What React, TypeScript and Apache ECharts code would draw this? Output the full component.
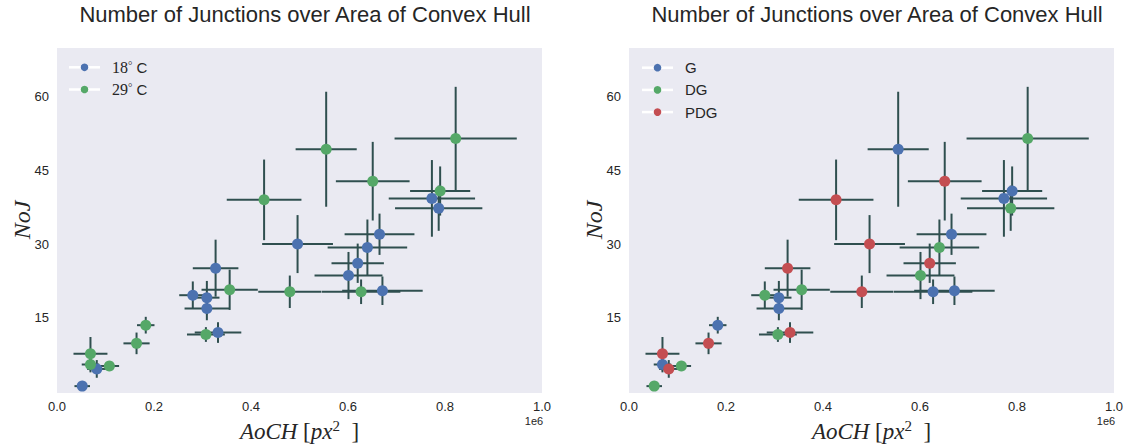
import React, { useEffect, useRef } from "react";
import * as echarts from "echarts";

// Area of convex hull [px^2] and number of junctions, with their errors
const aoch = [52000, 82000, 280000, 309000, 309000, 327000, 332000, 496000, 640000, 620000, 601000, 671000, 665000, 773000, 787000,
  69000, 69000, 108000, 164000, 183000, 307000, 356000, 480000, 627000, 427000, 555000, 651000, 790000, 822000];
const noj = [1.1, 4.6, 19.6, 19.1, 16.9, 25.1, 12.0, 30.0, 29.3, 26.1, 23.6, 20.5, 32.0, 39.3, 37.3,
  7.7, 5.5, 5.2, 9.8, 13.5, 11.6, 20.7, 20.3, 20.3, 39.0, 49.3, 42.8, 40.8, 51.5];
const aochErr = [16000, 20000, 28000, 26000, 46000, 47000, 48000, 73000, 82000, 54000, 70000, 83000, 72000, 89000, 90000,
  35000, 18000, 20000, 27000, 18000, 39000, 58000, 65000, 81000, 77000, 63000, 76000, 62000, 126000];
const nojErr = [0.5, 1.8, 2.8, 3.4, 2.4, 5.8, 2.1, 5.9, 5.7, 4.0, 4.8, 2.9, 4.2, 7.8, 4.6,
  3.4, 1.6, 1.0, 2.2, 1.7, 1.5, 4.1, 3.3, 2.5, 8.2, 11.7, 8.0, 5.0, 10.5];
const temperature = ["18", "18", "18", "18", "18", "18", "18", "18", "18", "18", "18", "18", "18", "18", "18",
  "29", "29", "29", "29", "29", "29", "29", "29", "29", "29", "29", "29", "29", "29"];
const genotype = ["DG", "PDG", "DG", "G", "G", "PDG", "PDG", "PDG", "DG", "PDG", "DG", "G", "G", "G", "DG",
  "PDG", "G", "DG", "PDG", "G", "DG", "DG", "PDG", "G", "PDG", "G", "PDG", "G", "DG"];

const tempGroups = ["18", "29"];
const typeGroups = ["G", "DG", "PDG"];
const yTicks = [15, 30, 45, 60];
const xTickInterval = 200000;

const COLORS = ["#4C72B0", "#55A868", "#C44E52"];
const BAR = "#2F4F4F";
const TXT = "#262626";
const SANS = '"Liberation Sans", Arial, sans-serif';
const SERIF = '"Liberation Serif", "Times New Roman", serif';

const GRIDS = [
  { left: 57, top: 48, width: 485, height: 345 },
  { left: 629, top: 48, width: 485, height: 345 },
];

function errorSeries(gi: number) {
  return {
    type: "custom",
    xAxisIndex: gi,
    yAxisIndex: gi,
    z: 1,
    silent: true,
    encode: { x: 0, y: 1 },
    data: aoch.map((x, i) => [x, noj[i], aochErr[i], nojErr[i]]),
    renderItem: (params: any, api: any) => {
      const x = api.value(0), y = api.value(1), xe = api.value(2), ye = api.value(3);
      const l = api.coord([x - xe, y]);
      const r = api.coord([x + xe, y]);
      const t = api.coord([x, y + ye]);
      const b = api.coord([x, y - ye]);
      const st = { stroke: BAR, lineWidth: 2 };
      return {
        type: "group",
        children: [
          { type: "line", shape: { x1: l[0], y1: l[1], x2: r[0], y2: r[1] }, style: st },
          { type: "line", shape: { x1: t[0], y1: t[1], x2: b[0], y2: b[1] }, style: st },
        ],
      };
    },
  };
}

function scatterSeries(gi: number, name: string, color: string, groupArr: string[]) {
  const data: number[][] = [];
  aoch.forEach((x, i) => {
    if (groupArr[i] === name) data.push([x, noj[i]]);
  });
  return {
    type: "scatter",
    name,
    xAxisIndex: gi,
    yAxisIndex: gi,
    z: 3,
    symbol: "circle",
    symbolSize: 11,
    itemStyle: { color, opacity: 1 },
    data,
  };
}

function legendGraphics(x0: number, y0: number, labels: any[]) {
  const els: any[] = [];
  labels.forEach((lab, i) => {
    const y = y0 + i * 22.2;
    els.push({ type: "line", shape: { x1: x0, y1: y, x2: x0 + 31, y2: y }, style: { stroke: "#ffffff", lineWidth: 2.5 }, z: 10 });
    els.push({ type: "circle", shape: { cx: x0 + 15.5, cy: y, r: 3.8 }, style: { fill: COLORS[i] }, z: 11 });
    els.push({ type: "text", x: x0 + 43, y, style: { ...lab, verticalAlign: "middle", align: "left", fill: TXT }, z: 11 });
  });
  return els;
}

function tempLabel(t: string) {
  return {
    text: `{n|${t}}{d|°}{c| C}`,
    rich: {
      n: { fontFamily: SERIF, fontSize: 16, fill: TXT },
      d: { fontFamily: SERIF, fontSize: 11, fill: TXT, verticalAlign: "top", lineHeight: 12 },
      c: { fontFamily: SANS, fontSize: 15, fill: TXT },
    },
  };
}

export default function App() {
  const ref = useRef<HTMLDivElement>(null);
  useEffect(() => {
    document.body.style.margin = "0";
    if (!ref.current) return;
    const chart = echarts.init(ref.current, undefined, { renderer: "svg" });

    const xAxes = GRIDS.map((_, gi) => ({
      type: "value",
      gridIndex: gi,
      min: 0,
      max: 1000000,
      interval: xTickInterval,
      axisLine: { show: false },
      axisTick: { show: false },
      splitLine: { show: false },
      axisLabel: {
        formatter: (v: number) => (v / 1e6).toFixed(1),
        color: TXT,
        fontSize: 13,
        fontFamily: SANS,
        margin: 7,
      },
    }));
    const yAxes = GRIDS.map((_, gi) => ({
      type: "value",
      gridIndex: gi,
      min: -0.3,
      max: 69.9,
      axisLine: { show: false },
      axisTick: { show: false },
      splitLine: { show: false },
      axisLabel: {
        customValues: yTicks,
        color: TXT,
        fontSize: 13,
        fontFamily: SANS,
        margin: 8,
      },
    }));

    const graphics: any[] = [];
    const titleX = [305, 877];
    const centers = [299.5, 871.5];
    const yLabX = [22, 594];
    const sciX = [534, 1106];
    titleX.forEach((tx, gi) => {
      graphics.push({
        type: "text", x: tx, y: 14,
        style: { text: "Number of Junctions over Area of Convex Hull", fontFamily: SANS, fontSize: 22, fill: TXT, align: "center", verticalAlign: "middle" },
      });
      graphics.push({
        type: "text", x: centers[gi], y: 431,
        style: {
          text: "{it|AoCH }{up|[}{it|px}{sup|2}{up|  ]}",
          align: "center", verticalAlign: "middle",
          rich: {
            it: { fontFamily: SERIF, fontStyle: "italic", fontSize: 23, fill: TXT, lineHeight: 26 },
            up: { fontFamily: SERIF, fontSize: 23, fill: TXT, lineHeight: 26 },
            sup: { fontFamily: SERIF, fontSize: 15, fill: TXT, verticalAlign: "top", lineHeight: 12 },
          },
        },
      });
      graphics.push({
        type: "text", x: yLabX[gi], y: 220, rotation: Math.PI / 2,
        style: { text: "NoJ", fontFamily: SERIF, fontStyle: "italic", fontSize: 24, fill: TXT, align: "center", verticalAlign: "middle" },
      });
      graphics.push({
        type: "text", x: sciX[gi], y: 421,
        style: { text: "1e6", fontFamily: SANS, fontSize: 11, fill: TXT, align: "center", verticalAlign: "middle" },
      });
    });
    graphics.push(...legendGraphics(69, 67.3, tempGroups.map((t) => tempLabel(t))));
    graphics.push(...legendGraphics(642, 67.7, typeGroups.map((t) => ({ text: t, fontFamily: SANS, fontSize: 15 }))));

    chart.setOption({
      animation: false,
      backgroundColor: "#ffffff",
      grid: GRIDS.map((g) => ({ ...g, show: true, backgroundColor: "#EAEAF2", borderWidth: 0 })),
      xAxis: xAxes,
      yAxis: yAxes,
      series: [
        errorSeries(0),
        errorSeries(1),
        ...tempGroups.map((t, i) => scatterSeries(0, t, COLORS[i], temperature)),
        ...typeGroups.map((t, i) => scatterSeries(1, t, COLORS[i], genotype)),
      ],
      graphic: graphics,
    });
    return () => chart.dispose();
  }, []);
  return <div ref={ref} style={{ width: 1131, height: 448 }} />;
}
